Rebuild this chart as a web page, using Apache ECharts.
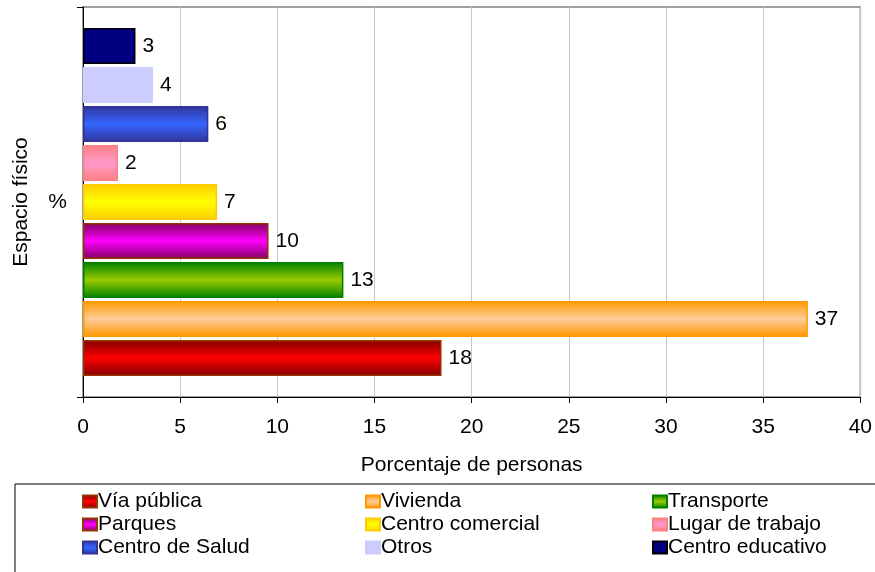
<!DOCTYPE html>
<html>
<head>
<meta charset="utf-8">
<script src="https://cdn.jsdelivr.net/npm/echarts@6/dist/echarts.min.js"></script>
<style>
  html, body { margin: 0; padding: 0; background: #fff; }
  #chart { width: 875px; height: 572px; }
</style>
</head>
<body>
<div id="chart"></div>
<script>
// datos (de abajo hacia arriba)
var categorias = ['%'];
var espacios = ['Vía pública', 'Vivienda', 'Transporte', 'Parques', 'Centro comercial',
    'Lugar de trabajo', 'Centro de Salud', 'Otros', 'Centro educativo'];
var porcentajes = [18.45, 37.3, 13.4, 9.55, 6.9, 1.8, 6.45, 3.6, 2.7];
var ticksX = [0, 5, 10, 15, 20, 25, 30, 35, 40];

// colores: extremo, centro, contorno
var colorBorde = ['#800000', '#FF9900', '#008000', '#800060', '#FFCC00', '#FF8080', '#333399', '#CCCCFF', '#000080'];
var colorCentro = ['#FF0000', '#FFCC99', '#99CC00', '#FF00FF', '#FFFF00', '#FF99CC', '#3366FF', '#CCCCFF', '#000080'];
var colorLinea = ['#993300', '#FF9900', '#008000', '#993300', '#FFCC00', '#FF8080', '#333399', '#CCCCFF', '#000000'];

var oChart = echarts.init(document.getElementById('chart'));

// las series se apilan de arriba hacia abajo, asi que se agregan al reves
var series = [];
for (var i = espacios.length - 1; i >= 0; i--) {
    series.push({
        name: espacios[i],
        type: 'bar',
        barWidth: 36,
        barGap: '8.3%',
        data: [porcentajes[i]],
        itemStyle: {
            color: new echarts.graphic.LinearGradient(0, 0, 0, 1, [
                { offset: 0, color: colorBorde[i] },
                { offset: 0.5, color: colorCentro[i] },
                { offset: 1, color: colorBorde[i] }
            ]),
            borderColor: colorLinea[i],
            borderWidth: 1.5
        },
        label: {
            show: true,
            position: 'right',
            distance: 7,
            color: '#000',
            fontSize: 21,
            fontFamily: 'Liberation Sans',
            formatter: function (p) { return Math.round(p.value); }
        }
    });
}

function columna(nombres, x) {
    return {
        orient: 'vertical',
        left: x,
        top: 486,
        itemWidth: 14,
        itemHeight: 12,
        itemGap: 2,
        icon: 'rect',
        data: nombres,
        selectedMode: false,
        textStyle: { fontSize: 21, color: '#000', fontFamily: 'Liberation Sans', padding: [0, 0, 0, -4] }
    };
}

var opt = {
    animation: false,
    backgroundColor: '#fff',
    textStyle: { fontFamily: 'Liberation Sans' },
    grid: {
        left: 83, right: 13, top: 7, bottom: 175,
        show: true, borderColor: '#808080', borderWidth: 1.5, backgroundColor: 'transparent'
    },
    legend: [
        columna([espacios[0], espacios[3], espacios[6]], 77),
        columna([espacios[1], espacios[4], espacios[7]], 360),
        columna([espacios[2], espacios[5], espacios[8]], 647)
    ],
    graphic: [{
        type: 'rect',
        shape: { x: 15, y: 484, width: 900, height: 120 },
        style: { fill: 'none', stroke: '#000', lineWidth: 1 },
        z: 100
    }],
    xAxis: {
        type: 'value',
        min: ticksX[0],
        max: ticksX[ticksX.length - 1],
        interval: 5,
        name: 'Porcentaje de personas',
        nameLocation: 'middle',
        nameGap: 58,
        nameTextStyle: { fontSize: 21, color: '#000' },
        axisLine: { show: true, lineStyle: { color: '#000', width: 1 } },
        axisTick: { show: true, length: 6, lineStyle: { color: '#000' } },
        axisLabel: { fontSize: 21, color: '#000', margin: 20 },
        splitLine: { show: true, lineStyle: { color: '#C8C8C8', width: 1 } }
    },
    yAxis: {
        type: 'category',
        data: categorias,
        name: 'Espacio físico',
        nameLocation: 'middle',
        nameGap: 51,
        nameRotate: 90,
        nameTextStyle: { fontSize: 21, color: '#000' },
        axisLine: { show: true, lineStyle: { color: '#000', width: 1 } },
        axisTick: { show: true, length: 6, lineStyle: { color: '#000' } },
        axisLabel: { fontSize: 21, color: '#000', margin: 16 }
    },
    series: series
};

oChart.setOption(opt);
</script>
</body>
</html>
